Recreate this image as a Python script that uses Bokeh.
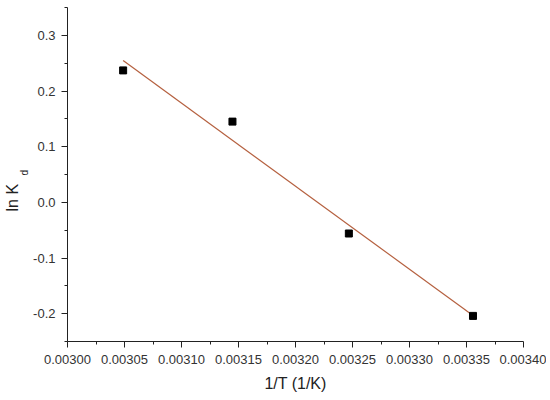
import numpy as np
from bokeh.plotting import figure
from bokeh.models import Title, FixedTicker, NumeralTickFormatter, Range1d
from bokeh.embed import file_html
from bokeh.resources import INLINE

# data
inv_T = [0.0030488, 0.0031447, 0.0032468, 0.0033557]
ln_Kd = [0.237, 0.145, -0.056, -0.204]

x_ticks = [0.00300, 0.00305, 0.00310, 0.00315, 0.00320, 0.00325, 0.00330, 0.00335, 0.00340]
y_ticks = [-0.2, -0.1, 0.0, 0.1, 0.2, 0.3]

# linear fit line
slope, intercept = np.polyfit(inv_T, ln_Kd, 1)
fit_x = [min(inv_T), max(inv_T)]
fit_y = [slope * v + intercept for v in fit_x]

FONT = "Liberation Sans"

p = figure(width=546, height=394, output_backend="svg", toolbar_location=None,
           x_range=Range1d(0.00300, 0.00340), y_range=Range1d(-0.25, 0.35),
           min_border_left=67, min_border_right=23, min_border_top=7, min_border_bottom=51)
p.outline_line_color = None
p.xgrid.visible = False
p.ygrid.visible = False
p.background_fill_color = "white"

p.line(fit_x, fit_y, line_color="#B5603F", line_width=1.2)
p.scatter(inv_T, ln_Kd, marker="square", size=7, fill_color="black", line_color="black")

for ax in (p.xaxis[0], p.yaxis[0]):
    ax.axis_line_color = "#222222"
    ax.major_tick_line_color = "#222222"
    ax.minor_tick_line_color = "#222222"
    ax.major_tick_out = 6
    ax.major_tick_in = 0
    ax.minor_tick_out = 3
    ax.minor_tick_in = 0
    ax.major_label_text_font = FONT
    ax.major_label_text_font_size = "13px"
    ax.major_label_text_color = "#333333"
    ax.axis_label_text_font = FONT
    ax.axis_label_text_font_size = "16px"
    ax.axis_label_text_font_style = "normal"
    ax.axis_label_text_color = "#222222"

p.xaxis[0].ticker = FixedTicker(ticks=x_ticks, minor_ticks=[x + 0.000025 for x in x_ticks[:-1]])
p.xaxis[0].formatter = NumeralTickFormatter(format="0.00000")
p.xaxis[0].axis_label = "1/T (1/K)"
p.xaxis[0].axis_label_standoff = 8
p.xaxis[0].major_label_standoff = 7

p.yaxis[0].ticker = FixedTicker(ticks=y_ticks, minor_ticks=[y + 0.05 for y in [-0.3] + y_ticks])
p.yaxis[0].formatter = NumeralTickFormatter(format="0.0")
p.yaxis[0].major_label_standoff = 6

# y axis title "ln K_d": main text plus a subscript "d" placed in side panels
t_d = Title(text="d", align="left", offset=166, standoff=-3, vertical_align="top",
            text_font=FONT, text_font_size="10px", text_font_style="normal", text_color="#222222")
t_l = Title(text="ln K", align="left", offset=130, standoff=0,
            text_font=FONT, text_font_size="16px", text_font_style="normal", text_color="#222222")
p.add_layout(t_d, "left")
p.add_layout(t_l, "left")

open("out.html", "w").write(file_html(p, INLINE))
